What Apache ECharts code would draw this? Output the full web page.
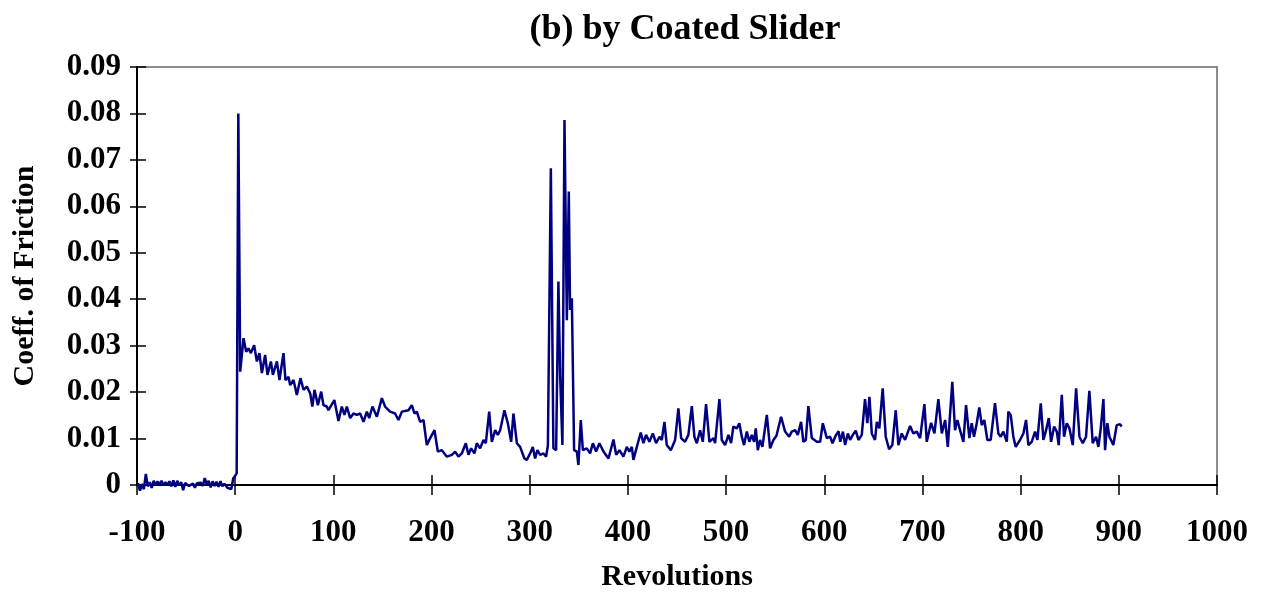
<!DOCTYPE html>
<html>
<head>
<meta charset="utf-8">
<title>(b) by Coated Slider</title>
<script src="https://cdn.jsdelivr.net/npm/echarts@6/dist/echarts.min.js"></script>
<style>
  html, body { margin: 0; padding: 0; background: #fff; }
  #chart { width: 1264px; height: 592px; }
</style>
</head>
<body>
<div id="chart"></div>
<script>
// Friction coefficient trace against sliding revolutions
const revolutions = [
  -99, -97, -95, -93, -91, -89, -87, -85, -83, -81, -79, -77, -75, -73, -71, -69, -67, -65, -63, -61,
  -59, -57, -55, -53, -51, -49, -47, -45, -43, -41, -39, -37, -35, -33, -31, -29, -27, -25, -23, -21,
  -19, -17, -15, -13, -11, -8, -4, -2, 0, 1.5, 3.2, 5.1, 8.5, 11.2, 13.5, 16, 19.3, 22.1, 24.7, 27.2,
  30.5, 32.9, 36.4, 38.4, 42.5, 45.1, 49.2, 51.2, 54.3, 56, 59.4, 62.8, 66.5, 69.6, 73, 76.4, 78.6, 80.8, 84.2, 87.6,
  89.9, 93.3, 95, 101, 105.2, 108.6, 111.3, 113.7, 117.1, 120.5, 123.9, 127.3, 130.7, 134.1, 136.5, 139.8, 144.3, 149.4, 152.7, 157.8,
  162.9, 166.3, 169.8, 176.5, 179.9, 182.6, 185, 188.4, 191.8, 195.2, 198.6, 203, 206.4, 210.5, 215.6, 220.7, 224, 227.4, 230.8, 234.9,
  237.6, 240.3, 243.7, 246.1, 249.5, 252.9, 255.3, 258.7, 261.4, 264.8, 267.5, 269.9, 274.2, 277.7, 281.1, 283.4, 286.9, 290.2, 294.6, 297,
  300.4, 303.1, 305.5, 307.8, 310.6, 314, 316.7, 318.5, 321.5, 324.1, 326.9, 329.2, 331, 333.3, 335.4, 337.8, 339.8, 341.1, 342.9, 345.2,
  348, 349.6, 352, 354.1, 358.1, 361.5, 364.3, 367.6, 371, 375.1, 380.2, 385.3, 388, 391.4, 395.4, 398.9, 401.5, 404, 405.6, 409.1,
  413.1, 415.8, 418.5, 421.9, 425.4, 428.7, 432.1, 434.5, 437.2, 439.6, 443.7, 448.1, 451.4, 454.2, 458.2, 461.6, 465.1, 467.7, 470.2, 473.5,
  476.3, 479.6, 483, 487.1, 488.8, 493.2, 495.6, 499, 502.4, 505.1, 507.4, 510.9, 513.5, 516, 518.3, 521.1, 523.7, 526.2, 528.5, 530.2,
  532.3, 534.6, 537, 541.5, 544.8, 548.2, 551.3, 556, 560.1, 564.2, 566.9, 570.3, 573, 576.4, 578.7, 581.2, 583.8, 587.3, 592.4, 595.8,
  598.5, 602.6, 605.9, 608.4, 611.1, 614.5, 616.3, 619, 621.2, 624, 626.3, 629.1, 632.1, 634.8, 638.2, 641.5, 643.9, 646, 648.4, 651.7,
  653.5, 656.1, 659.5, 662.6, 666, 669.3, 672.8, 675.5, 678.9, 682.3, 687.4, 690.7, 694.2, 697.6, 702, 704.4, 708.8, 712.2, 716.2, 719.7,
  723.1, 725.8, 730.4, 733.2, 735.6, 738.3, 741.7, 744.4, 747.8, 750.2, 752.5, 755.3, 757.9, 760.4, 763, 766.1, 769.5, 773.9, 777.3, 779.7,
  782.4, 785.9, 787.5, 789.9, 792.6, 795, 799.4, 802.8, 805.5, 807.9, 811.3, 814.7, 817.1, 820.5, 823.2, 825.9, 828.7, 831, 834.1, 836.8,
  838.8, 841.9, 844.2, 847, 849.7, 853.1, 856.5, 859.9, 863.3, 866.6, 870, 873.4, 876.8, 879.2, 881.6, 884.3, 886, 888.3, 890.4, 894.4,
  897.9, 901.2, 902.9
];

const coeffOfFriction = [
  0.0004, -0.0012, 0.0002, -0.0009, 0.0024, -0.0003, 0.0006, -0.0006, 0.0009, 0.0000, 0.0008, 0.0001, 0.0009, -0.0001, 0.0006, 0.0000, 0.0008, -0.0003, 0.0010, -0.0004,
  0.0009, -0.0001, 0.0006, -0.0011, 0.0004, 0.0000, -0.0002, -0.0005, 0.0003, -0.0006, 0.0004, 0.0000, 0.0005, -0.0002, 0.0015, 0.0002, 0.0009, -0.0005, 0.0008, -0.0002,
  0.0007, -0.0004, 0.0008, -0.0003, 0.0003, -0.0006, -0.0009, 0.0014, 0.0020, 0.0025, 0.0800, 0.0244, 0.0316, 0.0287, 0.0294, 0.0284, 0.0301, 0.0266, 0.0284, 0.0241,
  0.0280, 0.0237, 0.0266, 0.0237, 0.0266, 0.0226, 0.0284, 0.0226, 0.0233, 0.0215, 0.0226, 0.0194, 0.0230, 0.0205, 0.0212, 0.0197, 0.0169, 0.0205, 0.0172, 0.0201,
  0.0172, 0.0169, 0.0161, 0.0183, 0.0138, 0.0169, 0.0151, 0.0169, 0.0144, 0.0154, 0.0151, 0.0154, 0.0136, 0.0158, 0.0144, 0.0169, 0.0147, 0.0187, 0.0169, 0.0158,
  0.0154, 0.0140, 0.0158, 0.0161, 0.0172, 0.0154, 0.0158, 0.0136, 0.0140, 0.0086, 0.0101, 0.0118, 0.0072, 0.0075, 0.0061, 0.0065, 0.0072, 0.0061, 0.0068, 0.0090,
  0.0065, 0.0079, 0.0068, 0.0090, 0.0079, 0.0097, 0.0090, 0.0158, 0.0093, 0.0118, 0.0108, 0.0118, 0.0161, 0.0133, 0.0093, 0.0154, 0.0090, 0.0082, 0.0057, 0.0054,
  0.0068, 0.0082, 0.0057, 0.0075, 0.0065, 0.0068, 0.0061, 0.0085, 0.0682, 0.0079, 0.0075, 0.0438, 0.0233, 0.0086, 0.0786, 0.0355, 0.0632, 0.0377, 0.0402, 0.0075,
  0.0072, 0.0043, 0.0140, 0.0075, 0.0079, 0.0068, 0.0090, 0.0072, 0.0090, 0.0072, 0.0057, 0.0098, 0.0065, 0.0075, 0.0061, 0.0082, 0.0072, 0.0082, 0.0054, 0.0082,
  0.0113, 0.0090, 0.0108, 0.0093, 0.0111, 0.0090, 0.0104, 0.0097, 0.0136, 0.0086, 0.0075, 0.0097, 0.0165, 0.0101, 0.0093, 0.0108, 0.0170, 0.0104, 0.0090, 0.0118,
  0.0093, 0.0174, 0.0093, 0.0101, 0.0090, 0.0185, 0.0097, 0.0086, 0.0108, 0.0090, 0.0126, 0.0122, 0.0133, 0.0104, 0.0086, 0.0115, 0.0093, 0.0108, 0.0093, 0.0122,
  0.0075, 0.0097, 0.0082, 0.0151, 0.0079, 0.0097, 0.0106, 0.0147, 0.0115, 0.0104, 0.0115, 0.0118, 0.0108, 0.0136, 0.0093, 0.0097, 0.0170, 0.0101, 0.0093, 0.0093,
  0.0133, 0.0101, 0.0104, 0.0090, 0.0104, 0.0116, 0.0093, 0.0115, 0.0086, 0.0111, 0.0097, 0.0108, 0.0117, 0.0097, 0.0108, 0.0185, 0.0133, 0.0190, 0.0111, 0.0097,
  0.0136, 0.0122, 0.0208, 0.0104, 0.0077, 0.0086, 0.0161, 0.0086, 0.0111, 0.0097, 0.0127, 0.0111, 0.0115, 0.0101, 0.0174, 0.0093, 0.0134, 0.0111, 0.0185, 0.0111,
  0.0140, 0.0082, 0.0222, 0.0118, 0.0140, 0.0118, 0.0093, 0.0172, 0.0101, 0.0133, 0.0104, 0.0133, 0.0167, 0.0129, 0.0140, 0.0097, 0.0097, 0.0176, 0.0111, 0.0104,
  0.0115, 0.0093, 0.0158, 0.0151, 0.0104, 0.0082, 0.0097, 0.0111, 0.0140, 0.0086, 0.0093, 0.0115, 0.0097, 0.0176, 0.0097, 0.0118, 0.0144, 0.0093, 0.0126, 0.0115,
  0.0086, 0.0194, 0.0104, 0.0133, 0.0122, 0.0086, 0.0208, 0.0104, 0.0090, 0.0104, 0.0203, 0.0090, 0.0104, 0.0082, 0.0122, 0.0185, 0.0075, 0.0133, 0.0104, 0.0086,
  0.0129, 0.0131, 0.0126
];

const xTicks = { min: -100, max: 1000, step: 100 };
const yTicks = { min: 0, max: 0.09, step: 0.01 };

const points = revolutions.map((r, i) => [r, coeffOfFriction[i]]);

const FONT = '"Liberation Serif", "Times New Roman", serif';
const labelStyle = { fontFamily: FONT, fontWeight: 'bold', fontSize: 31, color: '#000' };

// plot box
const GRID = { left: 137, right: 47, top: 67, bottom: 107 };
const PLOT_W = 1264 - GRID.left - GRID.right;
const PLOT_H = 592 - GRID.top - GRID.bottom;

const chart = echarts.init(document.getElementById('chart'));

const baseX = {
  type: 'value', min: xTicks.min, max: xTicks.max, interval: xTicks.step,
  splitLine: { show: false }
};
const baseY = {
  type: 'value', min: yTicks.min, max: yTicks.max, interval: yTicks.step,
  splitLine: { show: false }
};
const tickLine = { color: '#000', width: 1.5 };

chart.setOption({
  animation: false,
  backgroundColor: '#fff',
  title: {
    text: '(b) by Coated Slider',
    top: 7, left: 680, textAlign: 'center',
    textStyle: { fontFamily: FONT, fontWeight: 'bold', fontSize: 36, color: '#000' }
  },
  grid: Object.assign({}, GRID, {
    containLabel: false, outerBoundsMode: 'none',
    show: true, borderColor: '#8c8c8c', borderWidth: 2, backgroundColor: 'transparent'
  }),
  xAxis: [
    // main bottom axis: line, labels, name and the inner half of each tick
    Object.assign({}, baseX, {
      position: 'bottom',
      name: 'Revolutions', nameLocation: 'middle', nameGap: 77,
      nameTextStyle: Object.assign({}, labelStyle, { fontSize: 30 }),
      axisLine: { show: true, onZero: false, lineStyle: { color: '#000', width: 2 } },
      axisTick: { show: true, inside: true, length: 10, lineStyle: tickLine },
      axisLabel: Object.assign({}, labelStyle, { margin: 32, formatter: v => String(v) })
    }),
    // companion axis moved onto the bottom edge: outer half of each tick
    Object.assign({}, baseX, {
      position: 'top', offset: -PLOT_H,
      axisLine: { show: false, onZero: false },
      axisTick: { show: true, inside: true, length: 10, lineStyle: tickLine },
      axisLabel: { show: false }
    })
  ],
  yAxis: [
    Object.assign({}, baseY, {
      position: 'left',
      name: 'Coeff. of Friction', nameLocation: 'middle', nameGap: 97, nameRotate: 90,
      nameTextStyle: Object.assign({}, labelStyle, { fontSize: 30 }),
      axisLine: { show: true, onZero: false, lineStyle: { color: '#000', width: 2 } },
      axisTick: { show: true, inside: true, length: 9, lineStyle: tickLine },
      axisLabel: Object.assign({}, labelStyle, {
        margin: 16,
        formatter: v => (Math.abs(v) < 1e-9 ? '0' : v.toFixed(2))
      })
    }),
    Object.assign({}, baseY, {
      position: 'right', offset: -PLOT_W,
      axisLine: { show: false, onZero: false },
      axisTick: { show: true, inside: true, length: 7, lineStyle: tickLine },
      axisLabel: { show: false }
    })
  ],
  series: [{
    type: 'line',
    data: points,
    xAxisIndex: 0, yAxisIndex: 0,
    showSymbol: false,
    lineStyle: { color: '#000080', width: 2.5 },
    clip: false
  }]
});
</script>
</body>
</html>
